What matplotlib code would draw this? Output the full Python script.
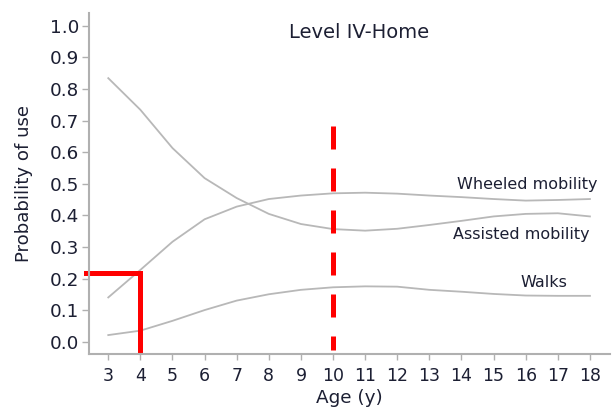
import matplotlib.pyplot as plt

plt.rcParams['font.family'] = ['DejaVu Sans']

ages = [3, 4, 5, 6, 7, 8, 9, 10, 11, 12, 13, 14, 15, 16, 17, 18]
wheeled = [0.141, 0.228, 0.317, 0.388, 0.428, 0.452, 0.463, 0.470, 0.472, 0.469,
           0.463, 0.458, 0.452, 0.447, 0.449, 0.452]
assisted = [0.834, 0.734, 0.613, 0.518, 0.455, 0.405, 0.373, 0.357, 0.352, 0.358,
            0.370, 0.383, 0.397, 0.405, 0.407, 0.397]
walks = [0.022, 0.036, 0.067, 0.101, 0.131, 0.151, 0.165, 0.173, 0.176, 0.175,
         0.165, 0.159, 0.152, 0.147, 0.146, 0.146]
yticks = [0.0, 0.1, 0.2, 0.3, 0.4, 0.5, 0.6, 0.7, 0.8, 0.9, 1.0]

text_col = '#1c1f33'
curve_col = '#b8b8b8'
spine_col = '#b0b0b0'

fig = plt.figure(figsize=(6.16, 4.19), dpi=100)
ax = fig.add_axes([0.1445, 0.155, 0.8455, 0.814])

ax.plot(ages, wheeled, color=curve_col, lw=1.3)
ax.plot(ages, assisted, color=curve_col, lw=1.3)
ax.plot(ages, walks, color=curve_col, lw=1.3)

# red guides
ax.plot([10, 10], [0.684, -0.025], color='#ff0000', lw=3.6, dashes=(4.6, 3.8), clip_on=False)
ax.plot([2.31, 3.98, 3.98], [0.219, 0.219, -0.025], color='#ff0000', lw=3.6,
        solid_joinstyle='miter', clip_on=False)

ax.text(18.23, 0.497, 'Wheeled mobility', ha='right', va='center', fontsize=11.5, color=text_col)
ax.text(17.98, 0.339, 'Assisted mobility', ha='right', va='center', fontsize=11.5, color=text_col)
ax.text(17.3, 0.188, 'Walks', ha='right', va='center', fontsize=11.5, color=text_col)
ax.text(10.8, 0.978, 'Level IV-Home', ha='center', va='center', fontsize=14, color=text_col)

ax.set_xlim(2.4, 18.62)
ax.set_ylim(-0.038, 1.04)
ax.set_xticks(ages)
ax.set_yticks(yticks)
ax.set_yticklabels([f'{v:.1f}' for v in yticks])
ax.tick_params(colors=spine_col, labelcolor=text_col, labelsize=12.5, width=1)
ax.tick_params(axis='y', pad=2, length=5, labelsize=13.2)
ax.tick_params(axis='x', pad=5, length=4.5)
for s in ['top', 'right']:
    ax.spines[s].set_visible(False)
for s in ['left', 'bottom']:
    ax.spines[s].set_color(spine_col)
    ax.spines[s].set_linewidth(1.5)

ax.set_xlabel('Age (y)', fontsize=13.2, color=text_col, labelpad=3)
ax.set_ylabel('Probability of use', fontsize=13.1, color=text_col, labelpad=12)

fig.savefig('out.png', dpi=100)
